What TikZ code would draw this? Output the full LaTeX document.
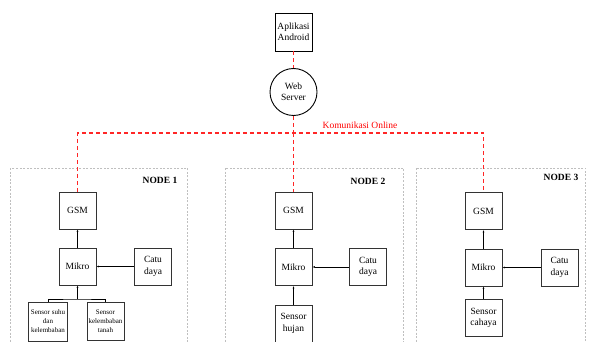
\documentclass[tikz,border=0pt]{standalone}
\usepackage{fontspec}
\setmainfont{Liberation Serif}
\usetikzlibrary{arrows.meta,positioning,shapes}

\begin{document}
\begin{tikzpicture}[
        x=1pt, y=-1pt,
        font=\fontsize{9.5pt}{11.5pt}\selectfont,
        >={Latex[length=2.5pt,width=2pt]},
        % Block styles
        block/.style={
            rectangle,
            draw=black!80,
            line width=0.9pt,
            inner sep=1pt,
            minimum height=37pt,
            minimum width=37pt,
            align=center
        },
        smallblock/.style={
            block,
            font=\fontsize{7pt}{9pt}\selectfont,
            minimum height=38pt,
            minimum width=38pt
        },
        server/.style={
            circle,
            draw=black,
            line width=0.9pt,
            inner sep=1pt,
            minimum size=47pt,
            align=center
        },
        nodebox/.style={draw=black!25, line width=0.5pt, dash pattern=on 2pt off 1.5pt},
        nodelabel/.style={font=\fontsize{9.5pt}{11.5pt}\selectfont\bfseries},
        online/.style={color=red!85, line width=1.1pt, dash pattern=on 4pt off 3pt},
        arrow/.style={->, line width=0.8pt},
        link/.style={line width=0.8pt}
    ]
    \useasboundingbox (0,0) rectangle (589,342);

    % Android and server
    \node[block, draw=black, minimum height=38pt] (app) at (293.5,32) {Aplikasi\\Android};
    \node[server] (web) at (293.5,92) {Web\\Server};
    \node[text=red] (online) at (360,125) {Komunikasi Online};

    % Node areas
    \draw[nodebox] (10,168) rectangle (187,352);
    \draw[nodebox] (225,168) rectangle (403,352);
    \draw[nodebox] (416,168) rectangle (585,352);
    \node[nodelabel] (titleA) at (160,180) {NODE 1};
    \node[nodelabel] (titleB) at (368,181) {NODE 2};
    \node[nodelabel] (titleC) at (561,177) {NODE 3};

    % NODE 1
    \node[block] (gsmA) at (77.5,210.5) {GSM};
    \node[block] (mikroA) at (77.5,266.5) {Mikro};
    \node[block] (catuA) at (153,266.5) {Catu\\daya};
    \node[smallblock, minimum width=39pt, minimum height=39pt] (senA1) at (48,321.5) {Sensor suhu\\dan\\kelembaban};
    \node[smallblock, minimum width=37pt] (senA2) at (105.5,321) {Sensor\\kelembaban\\tanah};
    \coordinate (splitA) at (77.5,299);

    % NODE 2
    \node[block] (gsmB) at (293.5,210.5) {GSM};
    \node[block] (mikroB) at (293.5,267) {Mikro};
    \node[block] (catuB) at (368,267) {Catu\\daya};
    \node[block] (senB) at (293.5,323.5) {Sensor\\hujan};

    % NODE 3
    \node[block] (gsmC) at (483.5,211) {GSM};
    \node[block] (mikroC) at (483.5,267.5) {Mikro};
    \node[block] (catuC) at (559.5,267.5) {Catu\\daya};
    \node[block] (senC) at (483.5,318) {Sensor\\cahaya};

    % Online links
    \coordinate (bus) at (293.5,133);
    \draw[online] (app) -- (web);
    \draw[online] (web) -- (bus);
    \draw[online] (gsmA) |- (bus) -| (gsmC);
    \draw[online] (bus) -- (gsmB);

    % Connections
    \draw[arrow] (mikroA) -- (gsmA);
    \draw[arrow] (catuA) -- (mikroA);
    \draw[arrow] (splitA) -- (mikroA);
    \draw[link] (senA1.north) |- (splitA) -| (senA2.north);

    \draw[arrow] (mikroB) -- (gsmB);
    \draw[arrow] (catuB) -- (mikroB);
    \draw[arrow] (senB) -- (mikroB);

    \draw[arrow] (mikroC) -- (gsmC);
    \draw[arrow] (catuC) -- (mikroC);
    \draw[arrow] (senC) -- (mikroC);

\end{tikzpicture}
\end{document}
